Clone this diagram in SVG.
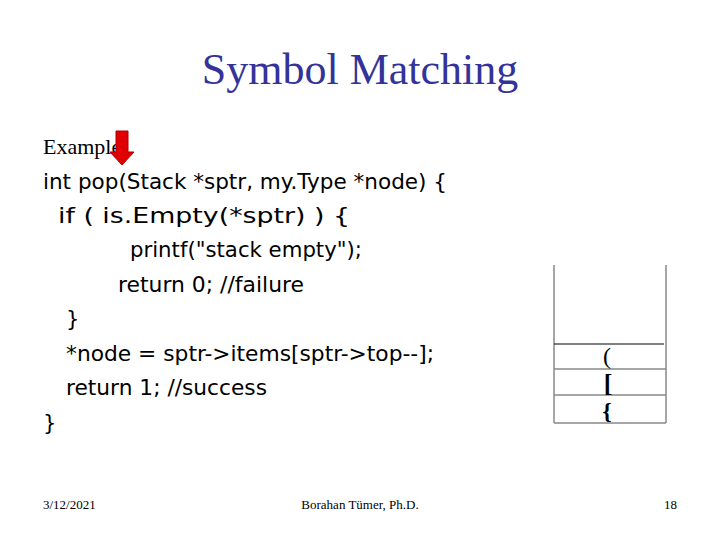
<svg xmlns="http://www.w3.org/2000/svg" width="720" height="540" viewBox="0 0 720 540">
<style>
.code{font-family:"DejaVu Sans",sans-serif;font-size:21px;fill:#000}
.ser{font-family:"Liberation Serif",serif;fill:#000}
.st{stroke:#888;stroke-width:1.5;fill:none}
</style>
<rect width="720" height="540" fill="#fff"/>
<text x="360" y="84" text-anchor="middle" font-family="Liberation Serif,serif" font-size="44" fill="#333399">Symbol Matching</text>
<text class="ser" x="43" y="154" font-size="22">Example:</text>
<g id="code">
<text class="code" x="43" y="189" textLength="404" lengthAdjust="spacingAndGlyphs">int pop(Stack *sptr, my.Type *node) {</text>
<text class="code" x="58" y="223" textLength="292" lengthAdjust="spacingAndGlyphs">if ( is.Empty(*sptr) ) {</text>
<text class="code" x="130" y="257" textLength="232" lengthAdjust="spacingAndGlyphs">printf("stack empty");</text>
<text class="code" x="118" y="292" textLength="186" lengthAdjust="spacingAndGlyphs">return 0; //failure</text>
<text class="code" x="66" y="326">}</text>
<text class="code" x="66" y="361" textLength="368" lengthAdjust="spacingAndGlyphs">*node = sptr-&gt;items[sptr-&gt;top--];</text>
<text class="code" x="66" y="395" textLength="201" lengthAdjust="spacingAndGlyphs">return 1; //success</text>
<text class="code" x="43" y="430">}</text>
</g>
<g id="arrow"><polygon points="116,131 128,131 128,152 134,152 122,165 110,152 116,152" fill="#e00000" stroke="#a00" stroke-width="1"/></g>
<g id="stack">
<line class="st" x1="554" y1="265" x2="554" y2="423"/>
<line class="st" x1="666" y1="265" x2="666" y2="423"/>
<line x1="554" y1="344" x2="664" y2="344" stroke="#000" stroke-width="1.2"/>
<line class="st" x1="554" y1="369" x2="666" y2="369"/>
<line class="st" x1="554" y1="395" x2="666" y2="395"/>
<line class="st" x1="554" y1="423" x2="666" y2="423"/>
<text class="ser" x="607" y="364" font-size="24" text-anchor="middle">(</text>
<text class="ser" x="608" y="392" font-size="26" text-anchor="middle" font-weight="bold">[</text>
<text class="ser" x="607" y="419" font-size="24" text-anchor="middle" font-weight="bold">{</text>
</g>
<text class="ser" x="43" y="509" font-size="13">3/12/2021</text>
<text class="ser" x="360" y="509" font-size="13" text-anchor="middle">Borahan Tümer, Ph.D.</text>
<text class="ser" x="677" y="509" font-size="13" text-anchor="end">18</text>
</svg>
